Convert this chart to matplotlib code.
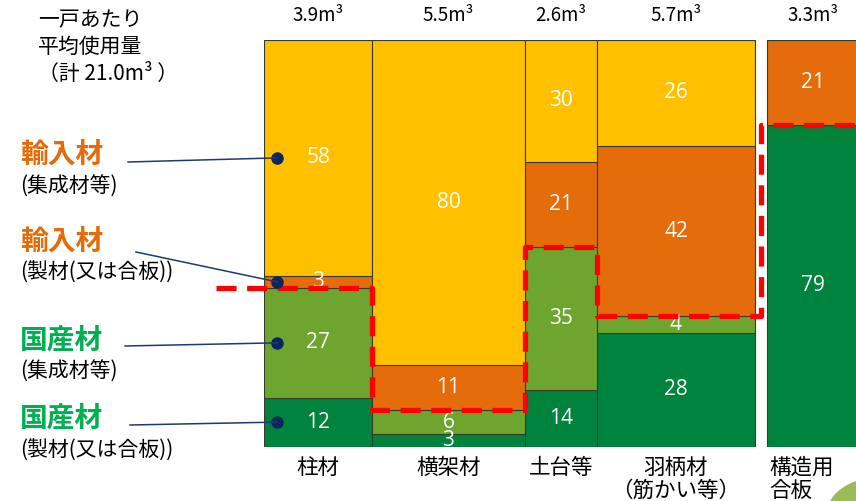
import numpy as np
import matplotlib.pyplot as plt
from matplotlib.patches import Circle

plt.rcParams['font.family'] = ['Noto Sans CJK JP', 'DejaVu Sans']

# データ
categories = ['柱材', '横架材', '土台等', '羽柄材\n（筋かい等）', '構造用\n合板']
volumes = [3.9, 5.5, 2.6, 5.7, 3.3]
volume_labels = ['3.9m³', '5.5m³', '2.6m³', '5.7m³', '3.3m³']
dom_sawn = [12, 3, 14, 28, 79]       # 国産材 (製材(又は合板))
dom_glulam = [27, 6, 35, 4, 0]       # 国産材 (集成材等)
imp_sawn = [3, 11, 21, 42, 21]       # 輸入材 (製材(又は合板))
imp_glulam = [58, 80, 30, 26, 0]     # 輸入材 (集成材等)

series = [dom_sawn, dom_glulam, imp_sawn, imp_glulam]
colors = ['#00843D', '#6EA52F', '#E46C0A', '#FFC000']

W, H = 856, 501
fig = plt.figure(figsize=(W / 100, H / 100), dpi=100)
px_per = 27.74
x0, ytop, ybot = 264, 40, 446.5
ax = fig.add_axes([x0 / W, (H - ybot) / H, (W - x0) / W, (ybot - ytop) / H])
ax.set_xlim(0, (W - x0) / px_per)
ax.set_ylim(0, 100)
ax.axis('off')

# 列の位置（構造用合板の前に隙間）
gap = 0.43
lefts = []
pos = 0
for i, v in enumerate(volumes):
    if i == len(volumes) - 1:
        pos += gap
    lefts.append(pos)
    pos += v
lefts = np.array(lefts)
widths = np.array(volumes)
centers = lefts + widths / 2

bottom = np.zeros(len(volumes))
for vals, c in zip(series, colors):
    vals = np.array(vals, dtype=float)
    ax.bar(lefts, vals, width=widths, bottom=bottom, align='edge', color=c,
           edgecolor='#3a3a2a', linewidth=0.8)
    for xc, b, v in zip(centers, bottom, vals):
        if v > 0:
            ax.text(xc, b + v / 2, f'{v:.0f}', ha='center', va='center',
                    color='white', fontsize=15, family=['Open Sans', 'DejaVu Sans'])
    bottom += vals

# 上部の体積ラベル
for xc, lab in zip(centers, volume_labels):
    ax.text(xc, 103.5, lab, ha='center', va='bottom', fontsize=13.5,
            family=['Noto Sans CJK JP', 'DejaVu Sans'], clip_on=False)

# 下部のカテゴリラベル（最後の列は左揃え）
for i, (xc, lab) in enumerate(zip(centers, categories)):
    if i == len(categories) - 1:
        ax.text(lefts[i] + 0.1, -2.5, lab, ha='left', va='top', fontsize=15.5,
                linespacing=1.05, multialignment='left', clip_on=False)
    else:
        ax.text(xc, -2.5, lab, ha='center', va='top', fontsize=15.5,
                linespacing=1.05, clip_on=False)

# 赤い破線（国産/輸入の境界）
dom_share = np.array(dom_sawn) + np.array(dom_glulam)
px, py = [-(x0 - 216) / px_per], [dom_share[0]]
n = len(volumes)
for i in range(n):
    xr = lefts[i] + widths[i]
    if i < n - 1 and lefts[i + 1] > xr:
        xr = (xr + lefts[i + 1]) / 2
    if i == n - 1:
        xr = ax.get_xlim()[1]
    px.append(xr)
    py.append(dom_share[i])
    if i < n - 1:
        px.append(xr)
        py.append(dom_share[i + 1])
ax.plot(px, py, color='#FF0000', lw=3.8, ls=(0, (3.8, 2.0)),
        solid_joinstyle='round', dash_joinstyle='round', clip_on=False, zorder=5)

# 左側の凡例注記
mid = np.cumsum([0] + [s[0] for s in series])
seg_mid = [(mid[k] + mid[k + 1]) / 2 for k in range(4)]
dot_x = 0.47
ann = [
    (3, '輸入材', '#E36C09', 155, 187, (128, 162)),
    (2, '輸入材', '#E36C09', 242, 273, (136, 252)),
    (1, '国産材', '#00B050', 341, 372, (125, 346)),
    (0, '国産材', '#00B050', 419, 451, (130, 425)),
]
subs = {3: '(集成材等)', 2: '(製材(又は合板))', 1: '(集成材等)', 0: '(製材(又は合板))'}
for k, head, col, yh, ys, (lx, ly) in ann:
    fig.text(20 / W, 1 - yh / H, head, color=col, fontsize=20, fontweight='bold',
             va='center', ha='left')
    fig.text(20 / W, 1 - ys / H, subs[k], color='black', fontsize=15,
             va='center', ha='left')
    # 線と点
    xd, yd = ax.transData.transform((dot_x, seg_mid[k]))
    fx, fy = fig.transFigure.inverted().transform((xd, yd))
    fig.add_artist(plt.Line2D([lx / W, fx], [1 - ly / H, fy], color='#1F3A6E', lw=1.1))
    ax.plot(dot_x, seg_mid[k], 'o', color='#0B2560', ms=8, zorder=6)

# 左上の説明
fig.text(38 / W, 1 - 9 / H, '一戸あたり\n平均使用量\n（計 21.0m³ ）', fontsize=15,
         va='top', ha='left', linespacing=1.3)

# 右下の飾りの円
fig.add_artist(Circle((890 / W, 1 - 512 / H), 62 / W, transform=fig.transFigure,
                      color='#9BBB59', clip_on=False))

fig.savefig('out.png', dpi=100)
